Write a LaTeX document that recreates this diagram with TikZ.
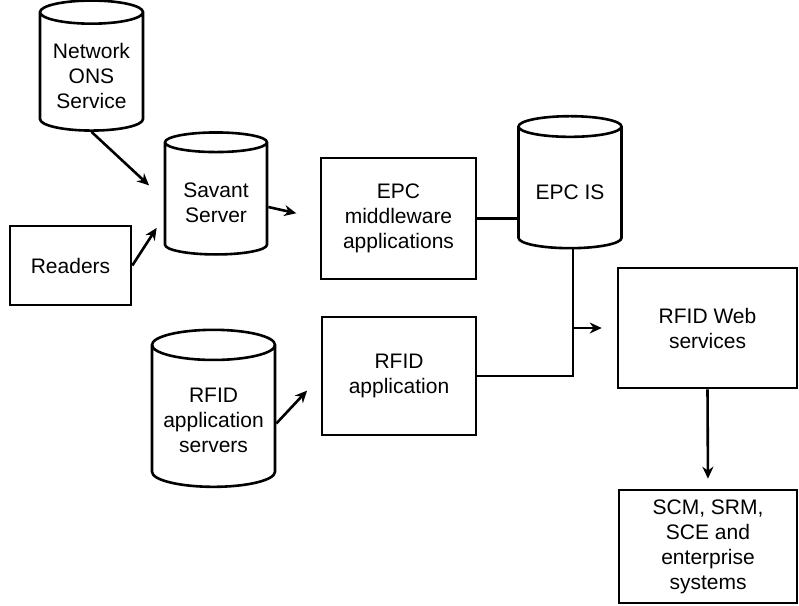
\documentclass[tikz,border=0pt]{standalone}
\usepackage{fontspec}
\setmainfont{Liberation Sans}
\usetikzlibrary{shapes.geometric, arrows.meta}
\tikzset{
  box/.style={draw, line width=2.6pt, align=center, inner sep=0pt,
    font=\fontsize{21}{25}\selectfont},
  store/.style={box, cylinder, shape border rotate=90, aspect=0.3},
  wire/.style={line width=2.6pt},
  arr/.style={wire, -{Stealth[length=12pt,width=11pt]}}
}
% text of a store sits a little below the centre of the cylinder
\newcommand\storetext[1]{\raisebox{0pt}[\dimexpr\height+12pt\relax][\depth]{\begin{tabular}{@{}c@{}}#1\end{tabular}}}

\begin{document}
\begin{tikzpicture}[x=1pt,y=-1pt]
\useasboundingbox (0,0) rectangle (799,605);

% stores
\node[store, minimum width=103pt, minimum height=130pt] (ons) at (91.5,72) {\storetext{Network\\ONS\\Service}};
\node[store, minimum width=102pt, minimum height=122pt] (savant) at (216,199) {\storetext{Savant\\Server}};
\node[store, minimum width=103pt, minimum height=132pt] (epcis) at (570,188) {\storetext{EPC IS}};
\node[store, minimum width=123pt, minimum height=157pt] (rfidsrv) at (213.5,416.5) {\storetext{RFID\\application\\servers}};

% boxes
\node[box, minimum width=121pt, minimum height=79pt] (readers) at (70.5,265.5) {Readers};
\node[box, minimum width=155pt, minimum height=121pt] (epcmw) at (398.5,218.5) {EPC\\middleware\\applications};
\node[box, minimum width=154pt, minimum height=118pt] (rfidapp) at (399,376) {RFID\\application};
\node[box, minimum width=179pt, minimum height=120pt] (rfidweb) at (707.5,328) {RFID Web\\services};
\node[box, minimum width=178pt, minimum height=113pt] (scm) at (708,546.5) {SCM, SRM,\\SCE and\\enterprise\\systems};

% links
\draw[arr, shorten >=20pt] (ons.south) -- (savant.west);
\draw[arr, shorten >=13pt] (readers.east) -- ([yshift=-18pt]savant.west);
\draw[arr, shorten >=24pt] ([yshift=-8pt]savant.east) -- (epcmw.west);
\draw[arr, shorten >=20pt] ([yshift=-7pt]rfidsrv.east) -- (rfidapp.west);
\draw[wire] (epcmw.east) -- (epcmw.east -| epcis.west);
\draw[wire] ([xshift=3pt]epcis.south) |- (rfidapp.east);
\coordinate (jn) at ([xshift=3pt]epcis.south |- rfidweb.west);
\draw[arr, shorten >=15pt] (jn) -- (rfidweb.west);
\draw[arr, shorten >=10pt] (rfidweb.south) -- (scm.north);
\end{tikzpicture}
\end{document}
